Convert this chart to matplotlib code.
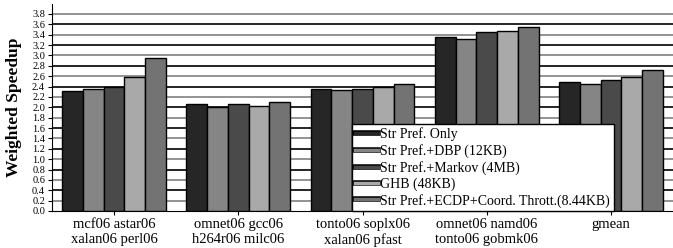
import matplotlib

matplotlib.use("Agg")
import matplotlib.pyplot as plt
import matplotlib.patheffects as pe
from matplotlib.lines import Line2D
import numpy as np

plt.rcParams["font.family"] = ["Liberation Serif", "DejaVu Serif"]

groups = [
    "mcf06 astar06\nxalan06 perl06",
    "omnet06 gcc06\nh264r06 milc06",
    "tonto06 soplx06\nxalan06 pfast",
    "omnet06 namd06\ntonto06 gobmk06",
    "gmean",
]
series = [
    "Str Pref. Only",
    "Str Pref.+DBP (12KB)",
    "Str Pref.+Markov (4MB)",
    "GHB (48KB)",
    "Str Pref.+ECDP+Coord. Thrott.(8.44KB)",
]
values = [
    [2.32, 2.06, 2.35, 3.35, 2.48],
    [2.35, 2.01, 2.33, 3.31, 2.45],
    [2.40, 2.07, 2.35, 3.45, 2.52],
    [2.59, 2.03, 2.39, 3.47, 2.58],
    [2.95, 2.10, 2.44, 3.54, 2.71],
]
colors = ["#262626", "#858585", "#4a4a4a", "#a9a9a9", "#737373"]
yticks = np.round(np.arange(0, 3.81, 0.2), 1)

fig = plt.figure(figsize=(6.73, 2.48), dpi=100)
ax = fig.add_axes([52 / 673, 1 - 211 / 248, 621 / 673, 207.4 / 248])

x = np.arange(len(groups))
width = 0.167
for i, (name, vals, color) in enumerate(zip(series, values, colors)):
    ax.bar(x + (i - 2) * width, vals, width, color=color, edgecolor="black",
           linewidth=1.0, zorder=3, label=name)

# alternating black / gray grid lines
for i, t in enumerate(yticks[1:], start=1):
    ax.axhline(t, color="black" if i % 2 == 0 else "#808080", linewidth=1.2, zorder=1)

ax.set_xlim(-0.5, 4.5)
ax.set_ylim(0, 4.0)
ax.set_yticks(yticks, [f"{t:.1f}" for t in yticks])
ax.set_xticks(x, groups)
ax.tick_params(axis="x", labelsize=10.5, length=3, width=0.8, pad=2)
ax.tick_params(axis="y", labelsize=7.4, length=3, width=0.8, pad=2)
ax.set_ylabel("Weighted Speedup", fontsize=12.5, fontweight="bold", labelpad=7)
for side in ("top", "right"):
    ax.spines[side].set_visible(False)

handles = [
    Line2D([0], [0], color=c, linewidth=2.5,
           path_effects=[pe.Stroke(linewidth=4, foreground="black"), pe.Normal()])
    for c in colors
]
leg = ax.legend(handles, series, loc="lower left", bbox_to_anchor=(0.483, 0.0),
                borderaxespad=0, fontsize=10, labelspacing=0.2, handlelength=1.6,
                handletextpad=0.2, borderpad=0.25, fancybox=False, framealpha=1,
                edgecolor="black")
leg.get_frame().set_linewidth(1.0)
leg.set_zorder(5)

fig.savefig("out.png", dpi=100)
